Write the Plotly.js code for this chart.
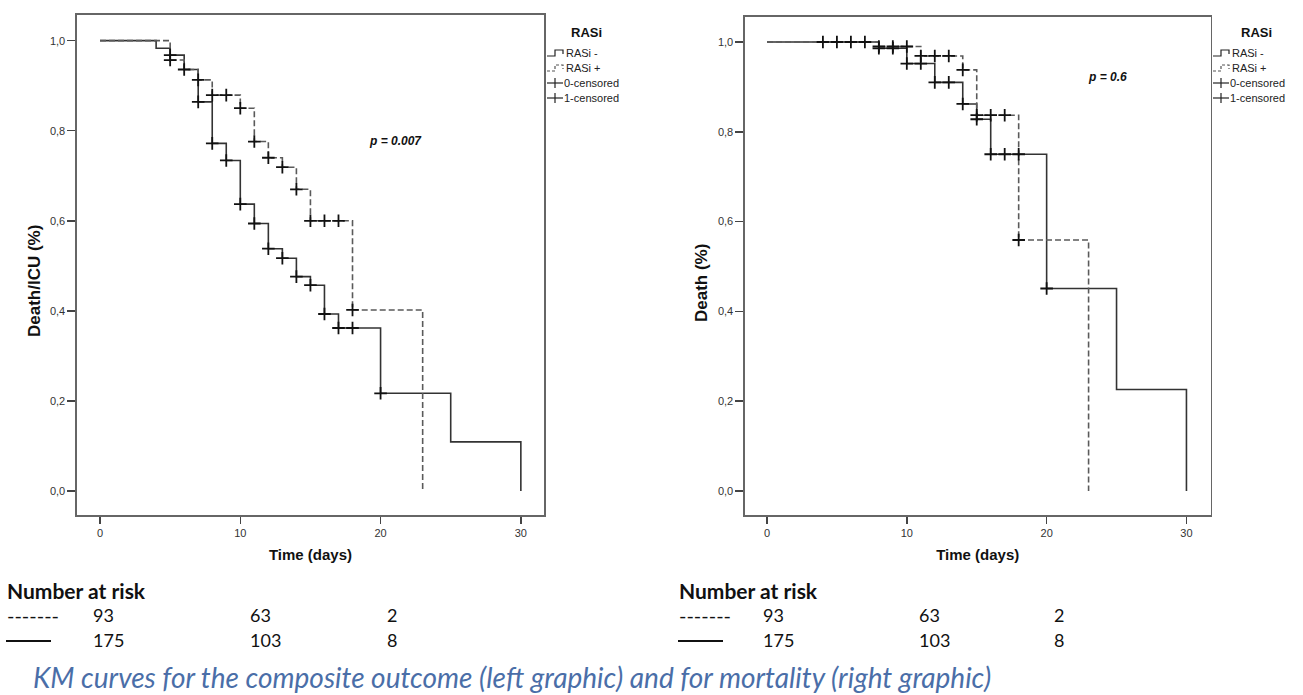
<!DOCTYPE html>
<html>
<head>
<meta charset="utf-8">
<script src="https://cdn.plot.ly/plotly-3.0.1.min.js"></script>
<style>
  html, body { margin: 0; padding: 0; background: #fff; }
  #chart { width: 1303px; height: 695px; }
</style>
</head>
<body>
<div id="chart"></div>
<script>
// ---------- DATA ----------
// Left graphic: composite outcome (Death/ICU)
const leftNegTimes = [0, 4, 5, 6, 7, 8, 9, 10, 11, 12, 13, 14, 15, 16, 17, 20, 25, 30];
const leftNegSurv  = [1, 0.983, 0.968, 0.936, 0.864, 0.772, 0.734, 0.637, 0.594, 0.538, 0.517, 0.476, 0.457, 0.393, 0.362, 0.217, 0.109, 0];
const leftNegCensored = [5, 6, 7, 8, 9, 10, 11, 12, 13, 14, 15, 16, 17, 18, 20];
const leftPosTimes = [0, 5, 6, 7, 8, 10, 11, 12, 13, 14, 15, 18, 23];
const leftPosSurv  = [1, 0.957, 0.936, 0.913, 0.879, 0.85, 0.776, 0.740, 0.719, 0.670, 0.600, 0.402, 0];
const leftPosCensored = [5, 7, 8, 9, 10, 11, 12, 13, 14, 15, 16, 17, 18];

// Right graphic: mortality (Death)
const rightNegTimes = [0, 8, 10, 12, 14, 15, 16, 20, 25, 30];
const rightNegSurv  = [1, 0.986, 0.952, 0.910, 0.862, 0.828, 0.750, 0.451, 0.226, 0];
const rightNegCensored = [4, 5, 6, 7, 8, 9, 10, 11, 12, 13, 14, 15, 16, 17, 18, 20];
const rightPosTimes = [0, 8, 11, 14, 15, 18, 23];
const rightPosSurv  = [1, 0.99, 0.969, 0.938, 0.837, 0.559, 0];
const rightPosCensored = [8, 9, 10, 11, 12, 13, 14, 15, 16, 17, 18];

const xTickVals = [0, 10, 20, 30];
const yTickVals = [0, 0.2, 0.4, 0.6, 0.8, 1.0];
const yTickLabels = ['0,0', '0,2', '0,4', '0,6', '0,8', '1,0'];

const legendTitle = 'RASi';
const legendLabels = ['RASi -', 'RASi +', '0-censored', '1-censored'];
const leftYTitle = 'Death/ICU (%)';
const rightYTitle = 'Death (%)';
const xTitle = 'Time (days)';
const leftPValue = 'p = 0.007';
const rightPValue = 'p = 0.6';

const riskHeader = 'Number at risk';
const riskRowPos = ['93', '63', '2'];     // dashed line (RASi +)
const riskRowNeg = ['175', '103', '8'];   // solid line (RASi -)
const caption = 'KM curves for the composite outcome (left graphic) and for mortality (right graphic)';

// ---------- HELPERS ----------
const W = 1303, H = 695;
const px = x => x / W;
const py = y => 1 - y / H;
function survAt(times, surv, t) {
  let s = surv[0];
  for (let i = 0; i < times.length; i++) if (times[i] <= t) s = surv[i];
  return s;
}
const AX_FONT = 'Liberation Sans, Arial, sans-serif';
const DOC_FONT = 'Lato, Open Sans, sans-serif';

function curve(times, surv, dashed, xa, ya, name) {
  return {
    x: times, y: surv, type: 'scatter', mode: 'lines', name: name,
    xaxis: xa, yaxis: ya, showlegend: false, hoverinfo: 'x+y',
    line: { shape: 'hv', color: dashed ? '#5a5a5a' : '#333', width: 1.6, dash: dashed ? '6px,3px' : 'solid' }
  };
}
function cens(censTimes, times, surv, xa, ya, name) {
  return {
    x: censTimes, y: censTimes.map(t => survAt(times, surv, t)),
    type: 'scatter', mode: 'markers', name: name, xaxis: xa, yaxis: ya, showlegend: false,
    marker: { symbol: 'cross-thin', size: 9, color: '#111', line: { color: '#111', width: 1.8 } }
  };
}

const traces = [
  curve(leftNegTimes, leftNegSurv, false, 'x', 'y', legendLabels[0]),
  curve(leftPosTimes, leftPosSurv, true, 'x', 'y', legendLabels[1]),
  cens(leftNegCensored, leftNegTimes, leftNegSurv, 'x', 'y', legendLabels[2]),
  cens(leftPosCensored, leftPosTimes, leftPosSurv, 'x', 'y', legendLabels[3]),
  curve(rightNegTimes, rightNegSurv, false, 'x2', 'y2', legendLabels[0]),
  curve(rightPosTimes, rightPosSurv, true, 'x2', 'y2', legendLabels[1]),
  cens(rightNegCensored, rightNegTimes, rightNegSurv, 'x2', 'y2', legendLabels[2]),
  cens(rightPosCensored, rightPosTimes, rightPosSurv, 'x2', 'y2', legendLabels[3])
];

function xAxis(domain, range, anchor) {
  return {
    domain: domain, range: range, anchor: anchor, tickvals: xTickVals,
    ticks: 'outside', ticklen: 7, tickwidth: 1.4, tickcolor: '#444',
    showline: true, linecolor: '#666', linewidth: 1.6, mirror: true,
    showgrid: false, zeroline: false,
    tickfont: { family: AX_FONT, size: 11, color: '#333' },
    title: { text: '<b>' + xTitle + '</b>', font: { family: AX_FONT, size: 15, color: '#111' }, standoff: 12 }
  };
}
function yAxis(domain, range, anchor) {
  return {
    domain: domain, range: range, anchor: anchor, tickvals: yTickVals, ticktext: yTickLabels,
    ticks: 'outside', ticklen: 8, tickwidth: 1.4, tickcolor: '#444',
    showline: true, linecolor: '#666', linewidth: 1.6, mirror: true,
    showgrid: false, zeroline: false,
    tickfont: { family: AX_FONT, size: 11, color: '#333' }
  };
}

const annotations = [];
const shapes = [];
function txt(x, y, text, opts) {
  annotations.push(Object.assign({
    xref: 'paper', yref: 'paper', x: px(x), y: py(y), text: text, showarrow: false,
    xanchor: 'left', yanchor: 'middle', font: { family: AX_FONT, size: 11, color: '#222' }
  }, opts || {}));
}
function path(d, dash) {
  shapes.push({ type: 'path', xref: 'paper', yref: 'paper', path: d,
    line: { color: dash ? '#555' : '#222', width: 1.2, dash: dash ? '3px,2px' : 'solid' } });
}
function P(x, y) { return px(x) + ',' + py(y); }

function legend(x0, titleCx) {
  txt(titleCx, 33, '<b>' + legendTitle + '</b>', { xanchor: 'center', font: { family: AX_FONT, size: 13, color: '#111' } });
  const ys = [53, 68, 83, 98];
  path('M' + P(x0, ys[0] + 3) + ' L' + P(x0 + 8, ys[0] + 3) + ' L' + P(x0 + 8, ys[0] - 3) + ' L' + P(x0 + 16, ys[0] - 3) + ' L' + P(x0 + 16, ys[0] + 1), false);
  path('M' + P(x0, ys[1] + 3) + ' L' + P(x0 + 8, ys[1] + 3) + ' L' + P(x0 + 8, ys[1] - 3) + ' L' + P(x0 + 16, ys[1] - 3) + ' L' + P(x0 + 16, ys[1] + 1), true);
  txt(x0 + 17, ys[0], legendLabels[0]);
  txt(x0 + 17, ys[1], legendLabels[1]);
  for (let k = 2; k < 4; k++) {
    path('M' + P(x0, ys[k]) + ' L' + P(x0 + 16, ys[k]), false);
    path('M' + P(x0 + 8, ys[k] - 5) + ' L' + P(x0 + 8, ys[k] + 5), false);
    txt(x0 + 15, ys[k], legendLabels[k]);
  }
}
legend(547, 586);
legend(1213, 1256);

// y-axis titles
txt(34, 281, '<b>' + leftYTitle + '</b>', { xanchor: 'center', textangle: -90, font: { family: AX_FONT, size: 17, color: '#111' } });
txt(701, 283, '<b>' + rightYTitle + '</b>', { xanchor: 'center', textangle: -90, font: { family: AX_FONT, size: 17, color: '#111' } });

// p-values
txt(395, 141, '<b><i>' + leftPValue + '</i></b>', { xanchor: 'center', font: { family: AX_FONT, size: 12, color: '#111' } });
txt(1107, 77, '<b><i>' + rightPValue + '</i></b>', { xanchor: 'center', font: { family: AX_FONT, size: 12, color: '#111' } });

// number at risk tables
function riskTable(x0, cols) {
  txt(x0, 590, '<b>' + riskHeader + '</b>', { font: { family: DOC_FONT, size: 21, color: '#111' } });
  txt(x0, 615, '-------', { font: { family: DOC_FONT, size: 20, color: '#111' } });
  shapes.push({ type: 'line', xref: 'paper', yref: 'paper', x0: px(x0 + 1), x1: px(x0 + 46), y0: py(641), y1: py(641), line: { color: '#111', width: 1.8 } });
  for (let i = 0; i < 3; i++) {
    txt(cols[i], 615, riskRowPos[i], { font: { family: DOC_FONT, size: 18, color: '#111' } });
    txt(cols[i], 640, riskRowNeg[i], { font: { family: DOC_FONT, size: 18, color: '#111' } });
  }
}
riskTable(5, [91, 248, 385]);
riskTable(677, [761, 917, 1052]);

txt(31, 677, '<i>' + caption + '</i>', { font: { family: DOC_FONT, size: 28, color: '#4a6ea8' } });

const layout = {
  width: W, height: H, margin: { l: 0, r: 0, t: 0, b: 0 },
  paper_bgcolor: '#fff', plot_bgcolor: '#fff', showlegend: false,
  xaxis: xAxis([px(77), px(544)], [-1.64, 31.65], 'y'),
  yaxis: yAxis([py(515), py(15)], [-0.0533, 1.057], 'x'),
  xaxis2: xAxis([px(745), px(1210.5)], [-1.574, 31.72], 'y2'),
  yaxis2: yAxis([py(515), py(17)], [-0.0535, 1.0557], 'x2'),
  annotations: annotations, shapes: shapes
};

Plotly.newPlot('chart', traces, layout, { displayModeBar: false, staticPlot: true });
</script>
</body>
</html>
